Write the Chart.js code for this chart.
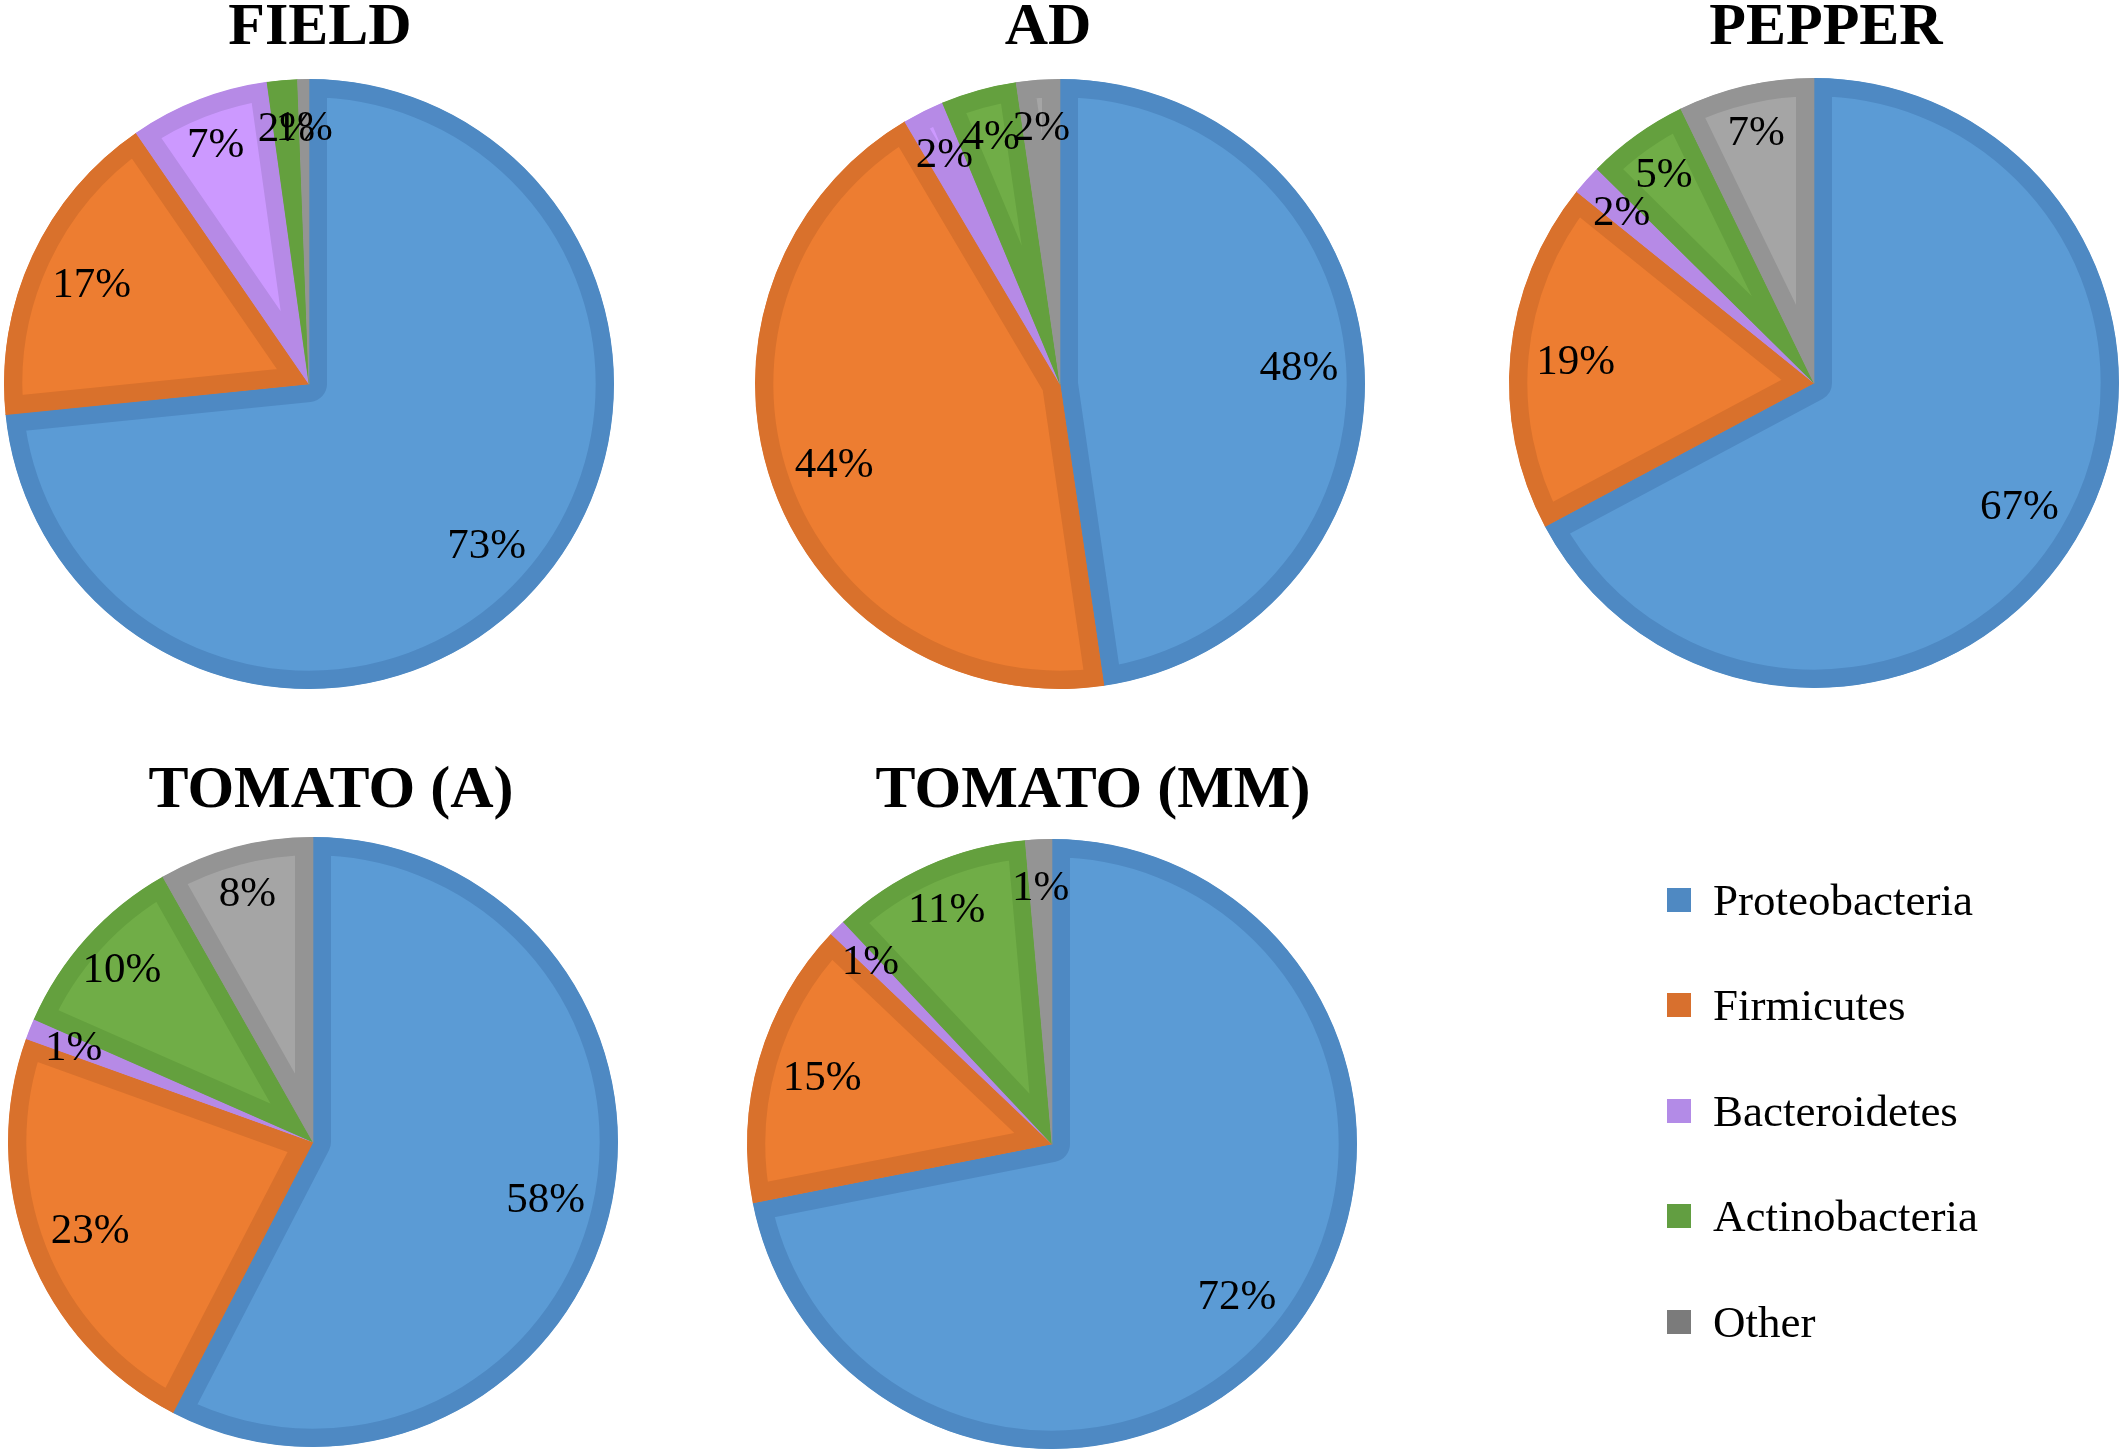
<!DOCTYPE html>
<html><head><meta charset="utf-8">
<script src="https://cdn.jsdelivr.net/npm/chart.js@4"></script>
<style>
html,body{margin:0;padding:0;background:#fff;width:2123px;height:1453px;overflow:hidden;}
canvas.panel{position:absolute;left:0;top:0;}
#legend{position:absolute;left:1667px;top:847px;font-family:"Liberation Serif","Times New Roman",Times,serif;font-size:45px;color:#000;}
.item{height:105.5px;display:flex;align-items:center;}
.sw{width:24px;height:24px;margin-right:22px;flex:none;}
</style></head><body>
<div id="wrap"></div>
<div id="legend"></div>
<script>
// ---- data ----
const categories = ['Proteobacteria', 'Firmicutes', 'Bacteroidetes', 'Actinobacteria', 'Other'];
const sampleNames = ['FIELD', 'AD', 'PEPPER', 'TOMATO (A)', 'TOMATO (MM)'];
const fieldValues   = [73.4, 17.0, 7.4, 1.6, 0.6];
const adValues      = [47.7, 43.8, 2.2, 4.0, 2.3];
const pepperValues  = [67.2, 18.6, 1.6, 5.4, 7.2];
const tomatoAValues = [57.6, 22.9, 1.1, 10.2, 8.2];
const tomatoMMValues= [71.9, 15.2, 0.9, 10.6, 1.4];
const sampleValues = [fieldValues, adValues, pepperValues, tomatoAValues, tomatoMMValues];

// ---- style ----
const W = 2123, H = 1453, R = 305;
const SERIF = '"Liberation Serif", "Times New Roman", Times, serif';
const fillColors   = ['#5B9BD5', '#ED7D31', '#CC99FF', '#70AD47', '#A5A5A5'];
const borderColors = ['#4E89C3', '#D9712C', '#B68AE6', '#64A03E', '#949494'];
const legendColors = ['#4F89C2', '#D8702E', '#B38BE7', '#629E41', '#7B7B7B'];
const panelLayout = [
  {cx: 309,  cy: 384,  tx: 320,  ty: 44},
  {cx: 1060, cy: 384,  tx: 1048, ty: 44},
  {cx: 1814, cy: 383,  tx: 1826, ty: 44},
  {cx: 313,  cy: 1142, tx: 331,  ty: 807},
  {cx: 1052, cy: 1144, tx: 1093, ty: 807}
];

const sliceLabels = {
  id: 'sliceLabels',
  afterDatasetsDraw(chart) {
    const ctx = chart.ctx;
    const meta = chart.getDatasetMeta(0);
    const vals = chart.data.datasets[0].data;
    const total = vals.reduce((a, b) => a + b, 0);
    ctx.save();
    ctx.font = '43px ' + SERIF;
    ctx.fillStyle = '#000';
    ctx.textAlign = 'center';
    ctx.textBaseline = 'middle';
    meta.data.forEach((arc, i) => {
      const p = arc.getProps(['x', 'y', 'startAngle', 'endAngle', 'outerRadius'], true);
      const frac = vals[i] / total;
      const mid = (p.startAngle + p.endAngle) / 2;
      const r = p.outerRadius * (frac >= 0.145 ? 0.785 : 0.845);
      ctx.fillText(Math.round(frac * 100) + '%', p.x + Math.cos(mid) * r, p.y + Math.sin(mid) * r + 2);
    });
    ctx.restore();
  }
};

const panelTitle = {
  id: 'panelTitle',
  afterDraw(chart, args, opts) {
    const ctx = chart.ctx;
    ctx.save();
    ctx.font = 'bold 60px ' + SERIF;
    ctx.fillStyle = '#000';
    ctx.textAlign = 'center';
    ctx.textBaseline = 'alphabetic';
    ctx.fillText(opts.text, opts.x, opts.y);
    ctx.restore();
  }
};

function build() {
  const wrap = document.getElementById('wrap');
  sampleNames.forEach((name, k) => {
    const L = panelLayout[k];
    const cv = document.createElement('canvas');
    cv.className = 'panel';
    cv.width = W; cv.height = H;
    cv.style.width = W + 'px'; cv.style.height = H + 'px';
    wrap.appendChild(cv);
    new Chart(cv, {
      type: 'pie',
      data: {
        labels: categories,
        datasets: [{
          data: sampleValues[k],
          backgroundColor: fillColors,
          borderColor: borderColors,
          borderWidth: 18,
          borderAlign: 'inner'
        }]
      },
      options: {
        responsive: false,
        animation: false,
        events: [],
        layout: {padding: {left: L.cx - R, right: W - L.cx - R, top: L.cy - R, bottom: H - L.cy - R}},
        plugins: {
          legend: {display: false},
          tooltip: {enabled: false},
          title: {display: false},
          panelTitle: {text: name, x: L.tx, y: L.ty}
        }
      },
      plugins: [sliceLabels, panelTitle]
    });
  });

  const legend = document.getElementById('legend');
  categories.forEach((c, i) => {
    const it = document.createElement('div');
    it.className = 'item';
    const sw = document.createElement('div');
    sw.className = 'sw';
    sw.style.background = legendColors[i];
    const tx = document.createElement('span');
    tx.textContent = c;
    it.appendChild(sw); it.appendChild(tx);
    legend.appendChild(it);
  });
}

Promise.all([
  document.fonts.load('43px "Liberation Serif"'),
  document.fonts.load('bold 60px "Liberation Serif"')
]).catch(() => {}).then(build);
</script>
</body></html>
